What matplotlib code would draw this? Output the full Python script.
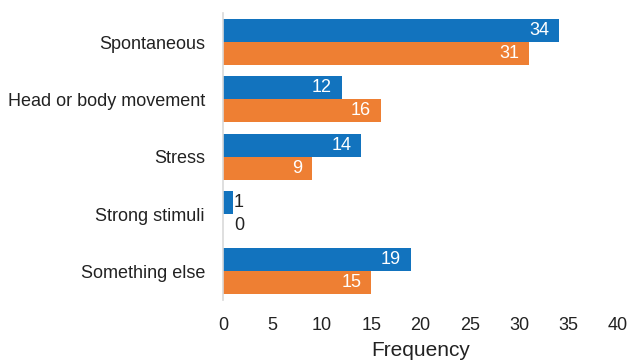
import matplotlib.pyplot as plt
import numpy as np

plt.rcParams['font.family'] = ['Liberation Sans', 'DejaVu Sans']

categories = ['Spontaneous', 'Head or body movement', 'Stress', 'Strong stimuli', 'Something else']
series_a = [34, 12, 14, 1, 19]
series_b = [31, 16, 9, 0, 15]

blue = '#1273BE'
orange = '#EE7F33'

fig = plt.figure(figsize=(6.3, 3.62), dpi=100)
ax = fig.add_axes([0.354, 0.171, 0.627, 0.792])

y = np.arange(len(categories))
h = 0.4
bars_a = ax.barh(y - h / 2, series_a, height=h, color=blue)
bars_b = ax.barh(y + h / 2, series_b, height=h, color=orange)

# value labels: white inside long bars, black just past the short ones
for bars, vals in ((bars_a, series_a), (bars_b, series_b)):
    for bar, v in zip(bars, vals):
        yc = bar.get_y() + bar.get_height() / 2
        if v >= 5:
            ax.text(v - 1.0, yc, str(v), ha='right', va='center', color='white', fontsize=13)
        else:
            ax.text(1.6, yc, str(v), ha='center', va='center', color='#222222', fontsize=13)

ax.set_xlim(0, 40)
ax.set_ylim(len(categories) - 0.5, -0.5)
ax.set_xticks(range(0, 41, 5))
ax.set_yticks(y)
ax.set_yticklabels(categories)
ax.tick_params(axis='both', length=0, labelsize=13, colors='#222222')
ax.tick_params(axis='x', pad=12)
ax.tick_params(axis='y', pad=13)

for side in ('top', 'right', 'bottom'):
    ax.spines[side].set_visible(False)
ax.spines['left'].set_color('#d9d9d9')
ax.spines['left'].set_linewidth(1.2)

ax.set_xlabel('Frequency', fontsize=15, color='#222222', labelpad=5)

fig.savefig('out.png', dpi=100)
